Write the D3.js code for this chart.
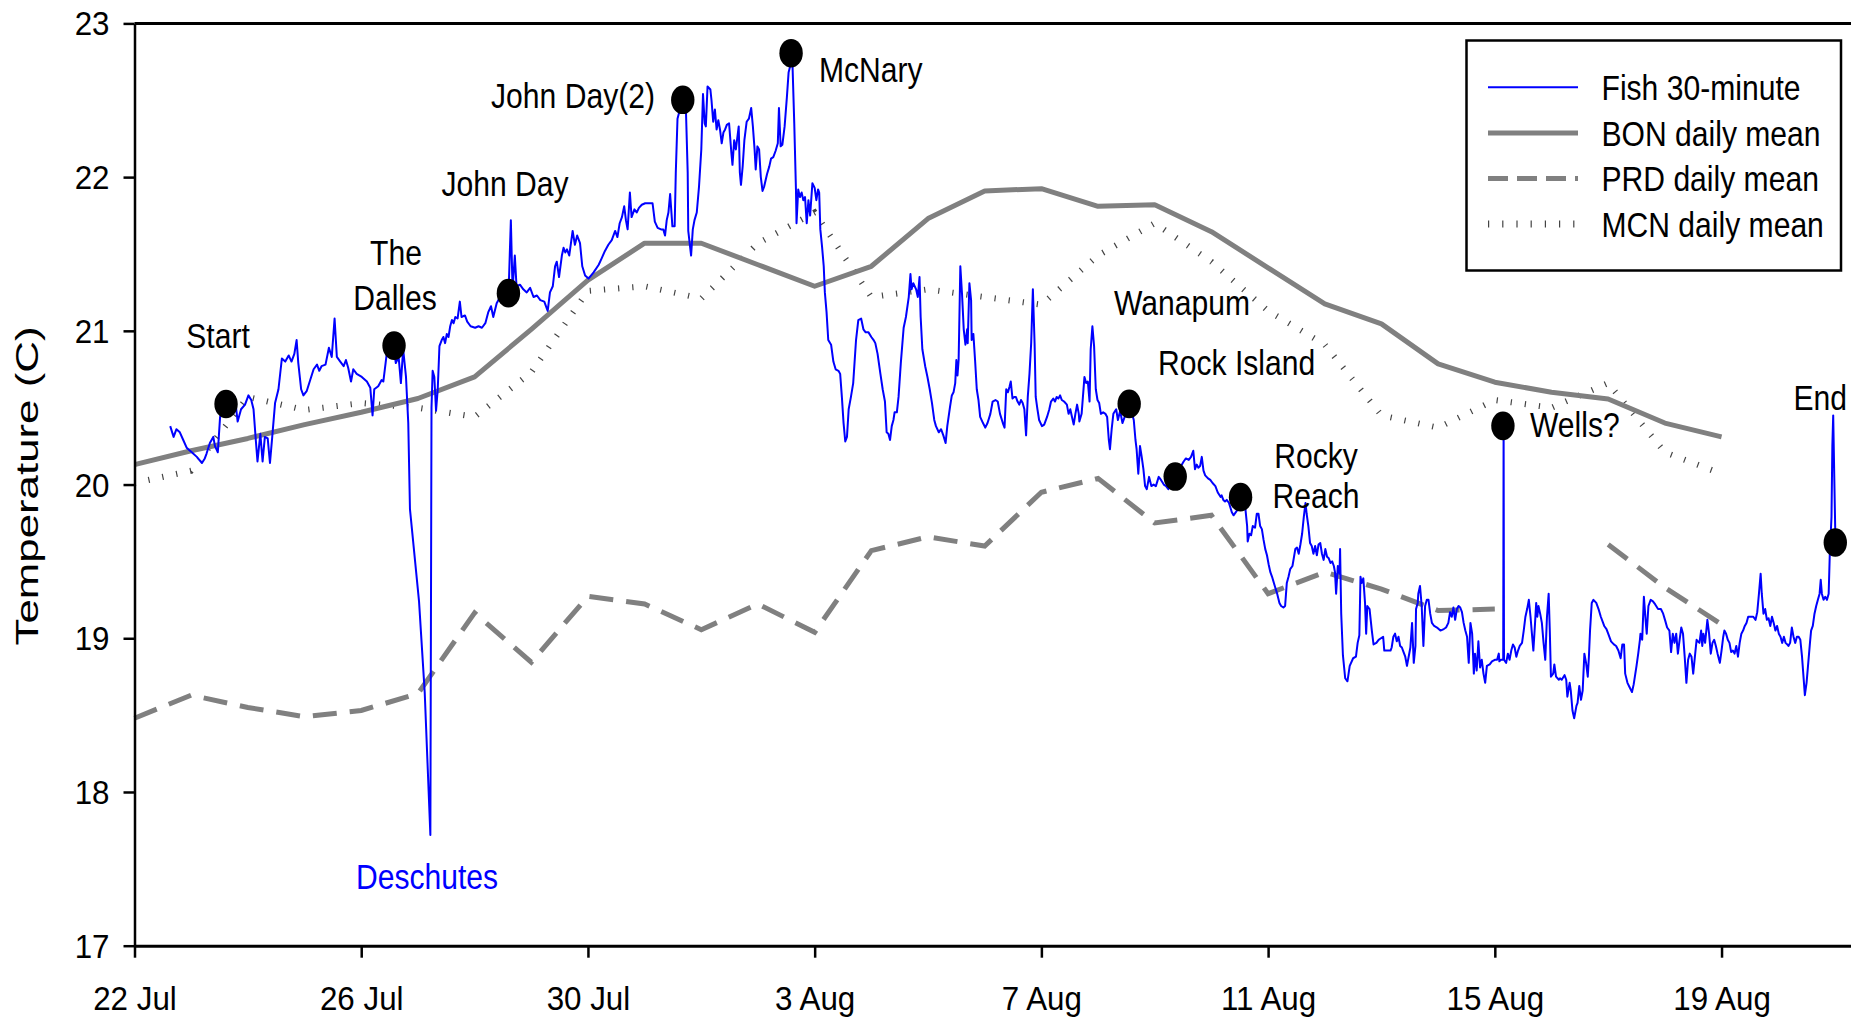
<!DOCTYPE html>
<html><head><meta charset="utf-8">
<script src="https://cdn.jsdelivr.net/npm/d3@7"></script>
<style>
html,body{margin:0;padding:0;background:#fff;overflow:hidden}
svg{display:block}
text{font-family:"Liberation Sans",Arial,Helvetica,sans-serif}
</style></head><body>
<svg id="chart" width="1851" height="1018"></svg>
<script>
// ---------- DATA ----------
const startUTC = Date.UTC(2003, 6, 22); // 22 Jul
const xTickDays = [0, 4, 8, 12, 16, 20, 24, 28];
const xTickLabels = ["22 Jul", "26 Jul", "30 Jul", "3 Aug", "7 Aug", "11 Aug", "15 Aug", "19 Aug"];
const yTicks = [17, 18, 19, 20, 21, 22, 23];

const dailyDays = [0,1,2,3,4,5,6,7,8,9,10,11,12,13,14,15,16,17,18,19,20,21,22,23,24,25,26,27,28];
const bonMean = [20.13,20.22,20.30,20.39,20.47,20.56,20.70,21.01,21.33,21.57,21.57,21.43,21.29,21.42,21.73,21.91,21.925,21.81,21.82,21.645,21.41,21.175,21.045,20.785,20.666,20.60,20.557,20.40,20.31];
const prdMean = [18.48,18.63,18.55,18.49,18.53,18.64,19.165,18.844,19.273,19.223,19.056,19.223,19.039,19.57,19.66,19.60,19.95,20.04,19.75,19.80,19.29,19.43,19.32,19.18,19.19,null,19.61,19.33,19.09];
const mcnMean = [20.01,20.09,20.57,20.485,20.53,20.50,20.44,20.73,21.26,21.29,21.21,21.57,21.77,21.22,21.27,21.22,21.17,21.49,21.70,21.45,21.13,20.91,20.45,20.37,20.55,20.50,20.66,20.21,20.07];

const siteNames = ["Start","The Dalles","John Day","John Day(2)","McNary","Wanapum","Rock Island","Rocky Reach","Wells?","End"];
const siteDays  = [1.615, 4.579, 6.597, 9.673, 11.584, 17.549, 18.361, 19.514, 24.143, 30.007];
const siteTemps = [20.524, 20.904, 21.245, 22.503, 22.806, 20.525, 20.052, 19.918, 20.382, 19.623];

// fish 30-minute record: [days since 22 Jul, temperature C]
const fishSeries = [
[0.63,20.38],[0.69,20.31],[0.74,20.36],[0.80,20.34],[0.86,20.29],[0.92,20.24],[1.01,20.21],[1.10,20.18],[1.19,20.14],[1.24,20.17],[1.27,20.20],[1.33,20.27],[1.39,20.31],[1.42,20.25],[1.47,20.21],[1.51,20.44],[1.55,20.49],[1.63,20.52],[1.72,20.54],[1.77,20.57],[1.82,20.41],[1.88,20.49],[1.95,20.52],[2.01,20.58],[2.06,20.55],[2.10,20.49],[2.14,20.29],[2.17,20.15],[2.22,20.33],[2.26,20.15],[2.30,20.31],[2.35,20.30],[2.39,20.14],[2.43,20.31],[2.48,20.53],[2.54,20.62],[2.60,20.82],[2.66,20.80],[2.72,20.84],[2.77,20.80],[2.82,20.85],[2.86,20.94],[2.89,20.79],[2.94,20.62],[2.98,20.58],[3.04,20.61],[3.10,20.68],[3.16,20.75],[3.22,20.78],[3.26,20.74],[3.30,20.77],[3.37,20.78],[3.43,20.89],[3.48,20.83],[3.53,21.08],[3.57,20.83],[3.63,20.80],[3.69,20.77],[3.73,20.81],[3.77,20.76],[3.82,20.67],[3.86,20.75],[3.92,20.72],[4.01,20.70],[4.10,20.67],[4.16,20.63],[4.20,20.45],[4.23,20.62],[4.30,20.64],[4.36,20.68],
[4.39,20.67],[4.45,20.85],[4.51,20.90],[4.57,20.91],[4.61,20.79],[4.66,20.83],[4.70,20.66],[4.74,20.88],[4.79,20.70],[4.83,20.40],[4.86,19.84],[5.02,19.24],[5.12,18.65],[5.22,17.72],[5.24,20.50],[5.26,20.74],[5.29,20.70],[5.32,20.48],[5.35,20.62],[5.38,20.90],[5.42,20.94],[5.45,20.96],[5.48,20.92],[5.51,20.98],[5.54,20.96],[5.57,21.03],[5.60,21.07],[5.63,21.05],[5.66,21.09],[5.70,21.08],[5.74,21.19],[5.77,21.09],[5.83,21.10],[5.87,21.06],[5.93,21.03],[6.01,21.02],[6.07,21.03],[6.13,21.02],[6.19,21.05],[6.24,21.12],[6.29,21.16],[6.33,21.09],[6.39,21.18],[6.45,21.22],[6.52,21.27],[6.60,21.25],[6.64,21.72],[6.67,21.27],[6.71,21.49],[6.74,21.29],[6.80,21.30],[6.86,21.27],[6.92,21.25],[6.98,21.28],[7.04,21.22],[7.10,21.23],[7.16,21.20],[7.23,21.19],[7.29,21.13],[7.33,21.25],[7.38,21.29],[7.42,21.42],[7.45,21.45],[7.49,21.35],[7.54,21.49],[7.57,21.54],[7.60,21.51],[7.63,21.53],[7.67,21.49],[7.73,21.65],[7.77,21.56],[7.81,21.62],[7.86,21.57],[7.90,21.42],[7.95,21.36],[8.01,21.34],[8.10,21.38],[8.19,21.43],[8.24,21.47],[8.30,21.52],[8.36,21.56],[8.42,21.59],[8.48,21.65],[8.52,21.61],[8.56,21.70],[8.60,21.74],[8.64,21.81],[8.67,21.72],
[8.70,21.66],[8.74,21.90],[8.77,21.74],[8.82,21.79],[8.86,21.77],[8.90,21.80],[8.95,21.82],[9.01,21.83],[9.14,21.83],[9.18,21.71],[9.23,21.67],[9.29,21.66],[9.33,21.66],[9.36,21.62],[9.39,21.72],[9.42,21.77],[9.45,21.89],[9.49,21.68],[9.53,21.68],[9.55,22.03],[9.58,22.38],[9.63,22.45],[9.70,22.44],[9.73,22.42],[9.76,22.03],[9.77,21.65],[9.82,21.49],[9.85,21.66],[9.88,21.72],[9.92,21.77],[9.96,21.94],[10.00,22.18],[10.03,22.54],[10.06,22.35],[10.08,22.33],[10.11,22.59],[10.16,22.57],[10.18,22.50],[10.21,22.36],[10.24,22.44],[10.27,22.31],[10.30,22.37],[10.33,22.31],[10.36,22.22],[10.39,22.29],[10.42,22.31],[10.45,22.34],[10.49,22.35],[10.53,22.16],[10.55,22.08],[10.58,22.24],[10.61,22.18],[10.66,22.33],[10.68,22.03],[10.70,21.95],[10.73,22.07],[10.76,22.24],[10.80,22.36],[10.84,22.38],[10.88,22.45],[10.91,22.33],[10.94,22.18],[10.96,22.05],[10.99,22.20],[11.02,22.18],[11.05,22.00],[11.08,21.91],[11.11,21.94],[11.16,22.02],[11.20,22.07],[11.23,22.12],[11.27,22.13],[11.31,22.17],[11.35,22.22],[11.37,22.45],[11.40,22.20],[11.43,22.21],[11.47,22.33],[11.51,22.52],[11.54,22.68],[11.58,22.74],[11.61,22.72],[11.64,22.35],[11.67,21.92],[11.68,21.70],[11.71,21.92],[11.74,21.87],[11.77,21.90],[11.80,21.85],[11.83,21.87],[11.86,21.70],[11.89,21.85],[11.92,21.75],[11.96,21.96],[12.00,21.93],[12.03,21.85],[12.06,21.92],[12.08,21.90],[12.10,21.66],[12.13,21.55],[12.16,21.42],[12.18,21.25],[12.21,21.12],[12.24,20.94],[12.29,20.91],[12.33,20.80],[12.37,20.75],[12.42,20.74],[12.45,20.72],[12.48,20.57],[12.51,20.40],[12.54,20.28],[12.57,20.31],[12.60,20.49],[12.64,20.57],[12.68,20.66],[12.73,20.94],[12.77,21.07],[12.82,21.08],[12.86,21.01],[12.90,20.99],[12.95,20.99],[13.00,20.96],[13.04,20.94],
[13.07,20.92],[13.11,20.85],[13.16,20.72],[13.20,20.62],[13.24,20.54],[13.27,20.34],[13.30,20.33],[13.33,20.29],[13.36,20.38],[13.39,20.42],[13.41,20.47],[13.45,20.47],[13.48,20.57],[13.52,20.79],[13.57,21.02],[13.61,21.09],[13.66,21.22],[13.69,21.37],[13.71,21.27],[13.74,21.31],[13.79,21.27],[13.82,21.22],[13.85,21.35],[13.87,21.09],[13.90,20.88],[13.95,20.77],[13.99,20.70],[14.03,20.62],[14.07,20.53],[14.11,20.42],[14.14,20.38],[14.19,20.34],[14.23,20.36],[14.27,20.32],[14.31,20.27],[14.34,20.38],[14.39,20.51],[14.42,20.58],[14.45,20.60],[14.48,20.66],[14.50,20.81],[14.52,20.71],[14.54,20.81],[14.57,21.42],[14.60,21.24],[14.63,21.01],[14.66,20.91],[14.69,21.01],[14.70,20.92],[14.73,21.31],[14.76,21.20],[14.77,20.94],[14.80,20.98],[14.83,20.81],[14.86,20.62],[14.89,20.55],[14.92,20.44],[14.97,20.40],[15.01,20.37],[15.05,20.40],[15.10,20.46],[15.14,20.54],[15.19,20.55],[15.23,20.54],[15.27,20.46],[15.32,20.40],[15.35,20.37],[15.38,20.62],[15.41,20.60],[15.44,20.64],[15.46,20.67],[15.49,20.56],[15.52,20.57],[15.55,20.57],[15.58,20.54],[15.61,20.52],[15.64,20.55],[15.67,20.53],[15.70,20.49],[15.73,20.32],[15.76,20.57],[15.79,20.72],[15.82,20.92],[15.85,21.27],[15.88,20.92],[15.90,20.57],[15.93,20.49],[15.96,20.42],[16.01,20.38],[16.05,20.39],[16.10,20.44],[16.14,20.49],[16.17,20.54],[16.21,20.56],[16.24,20.54],[16.27,20.57],[16.30,20.56],[16.33,20.58],[16.36,20.55],[16.40,20.54],[16.45,20.52],[16.48,20.46],[16.51,20.49],[16.54,20.44],[16.57,20.39],[16.60,20.46],[16.63,20.52],[16.66,20.46],[16.67,20.41],[16.71,20.46],[16.76,20.70],[16.79,20.66],[16.82,20.67],[16.85,20.54],[16.87,20.88],[16.90,21.03],[16.93,20.90],[16.96,20.62],[16.99,20.55],[17.02,20.53],[17.05,20.46],[17.09,20.47],[17.13,20.46],[17.16,20.44],[17.19,20.29],[17.21,20.23],[17.24,20.36],[17.27,20.46],[17.32,20.49],[17.35,20.42],[17.39,20.48],[17.43,20.40],[17.47,20.44],[17.51,20.50],[17.55,20.53],
[17.60,20.46],[17.63,20.42],[17.66,20.29],[17.68,20.23],[17.71,20.07],[17.74,20.25],[17.77,20.18],[17.80,20.10],[17.83,19.99],[17.86,19.97],[17.90,20.05],[17.94,19.99],[17.98,20.00],[18.02,19.99],[18.07,20.05],[18.11,20.03],[18.16,20.00],[18.20,19.99],[18.24,19.97],[18.30,20.03],[18.36,20.06],[18.43,20.10],[18.51,20.15],[18.55,20.17],[18.60,20.16],[18.64,20.18],[18.68,20.22],[18.71,20.10],[18.74,20.13],[18.77,20.11],[18.80,20.12],[18.83,20.18],[18.86,20.09],[18.89,20.06],[18.94,20.04],[18.98,20.03],[19.02,20.01],[19.07,19.99],[19.11,19.95],[19.16,19.92],[19.18,19.93],[19.21,19.90],[19.24,19.89],[19.27,19.90],[19.31,19.88],[19.36,19.82],[19.39,19.80],[19.45,19.83],[19.51,19.90],[19.56,19.88],[19.60,19.84],[19.63,19.73],[19.64,19.63],[19.67,19.68],[19.70,19.67],[19.73,19.73],[19.77,19.72],[19.80,19.81],[19.83,19.81],[19.86,19.73],[19.89,19.71],[19.92,19.64],[19.95,19.58],[19.98,19.54],[20.01,19.48],[20.04,19.43],[20.07,19.40],[20.11,19.35],[20.16,19.29],[20.20,19.23],[20.23,19.21],[20.27,19.20],[20.30,19.21],[20.33,19.36],[20.36,19.40],[20.39,19.45],[20.43,19.47],[20.48,19.58],[20.51,19.59],[20.54,19.55],[20.57,19.61],[20.60,19.68],[20.63,19.79],[20.66,19.88],[20.68,19.81],[20.71,19.73],[20.74,19.62],[20.77,19.60],[20.80,19.55],[20.83,19.60],[20.86,19.54],[20.89,19.61],[20.92,19.62],[20.95,19.55],[20.98,19.51],[21.01,19.58],[21.04,19.53],[21.07,19.52],[21.10,19.49],[21.13,19.50],[21.16,19.47],[21.18,19.43],[21.20,19.29],[21.23,19.47],[21.26,19.42],[21.27,19.58],[21.29,19.16],
[21.32,18.89],[21.36,18.74],[21.40,18.72],[21.44,18.82],[21.50,18.87],[21.55,18.88],[21.58,18.97],[21.61,19.02],[21.63,19.40],[21.65,19.36],[21.68,19.39],[21.71,19.23],[21.73,19.03],[21.75,19.21],[21.79,19.19],[21.83,19.05],[21.86,18.96],[21.91,18.97],[21.95,18.99],[21.99,19.00],[22.03,19.01],[22.05,18.92],[22.10,18.92],[22.16,18.92],[22.18,18.94],[22.21,19.01],[22.24,19.03],[22.27,18.98],[22.30,19.01],[22.33,18.95],[22.36,18.94],[22.39,18.91],[22.42,18.88],[22.45,18.82],[22.48,18.88],[22.51,18.94],[22.54,19.10],[22.57,18.84],[22.60,18.95],[22.61,19.19],[22.64,19.23],[22.65,19.29],[22.68,19.34],[22.71,19.21],[22.74,18.95],[22.77,19.21],[22.80,19.25],[22.83,19.25],[22.86,19.16],[22.89,19.10],[22.93,19.08],[22.98,19.07],[23.04,19.05],[23.10,19.06],[23.14,19.07],[23.18,19.10],[23.21,19.17],[23.24,19.14],[23.27,19.20],[23.30,19.12],[23.33,19.19],[23.36,19.21],[23.39,19.20],[23.42,19.17],[23.45,19.10],[23.48,19.05],[23.51,19.01],[23.54,18.84],[23.57,19.10],[23.60,19.03],[23.63,18.77],[23.65,18.90],[23.68,18.79],[23.71,18.98],[23.74,18.81],[23.77,18.86],[23.80,18.77],[23.83,18.71],[23.86,18.82],[23.91,18.83],[23.95,18.85],[24.00,18.86],[24.04,18.86],[24.07,18.90],[24.08,18.85],[24.11,18.86],[24.148,18.86],[24.155,20.38],[24.162,18.86],[24.20,18.84],[24.23,18.90],[24.26,18.86],[24.29,18.92],[24.32,18.96],[24.35,18.94],[24.38,18.88],[24.41,18.92],[24.44,18.95],[24.48,18.97],[24.51,19.05],[24.54,19.14],[24.57,19.19],[24.60,19.25],[24.63,19.14],[24.65,19.05],[24.68,18.92],[24.71,19.10],[24.73,19.23],[24.75,19.14],[24.77,19.21],[24.80,19.16],[24.83,19.10],[24.86,18.97],[24.89,18.86],[24.92,19.14],[24.95,19.29],[24.97,19.05],[24.99,18.75],[25.03,18.77],[25.05,18.83],[25.08,18.75],[25.13,18.73],[25.15,18.74],[25.18,18.73],[25.23,18.76],[25.26,18.73],[25.28,18.62],[25.32,18.71],[25.34,18.66],[25.37,18.53],[25.40,18.48],[25.44,18.56],[25.46,18.58],[25.49,18.69],[25.52,18.60],[25.55,18.66],[25.58,18.90],[25.61,18.84],[25.64,18.75],[25.66,18.88],[25.68,19.05],[25.71,19.23],[25.74,19.25],[25.79,19.23],[25.83,19.19],[25.87,19.14],
[25.93,19.08],[25.97,19.06],[26.01,19.02],[26.05,18.98],[26.10,18.96],[26.14,18.95],[26.18,18.92],[26.22,18.87],[26.25,18.96],[26.28,18.96],[26.30,18.77],[26.34,18.71],[26.38,18.68],[26.42,18.65],[26.45,18.70],[26.50,18.82],[26.53,18.90],[26.56,18.99],[26.57,19.03],[26.60,18.99],[26.63,19.27],[26.66,19.12],[26.68,19.03],[26.71,19.21],[26.75,19.25],[26.79,19.24],[26.83,19.22],[26.88,19.19],[26.93,19.19],[26.97,19.16],[27.01,19.11],[27.04,19.07],[27.08,19.05],[27.11,18.91],[27.14,19.03],[27.17,18.97],[27.20,19.03],[27.23,18.90],[27.26,18.99],[27.29,19.07],[27.32,19.03],[27.35,18.88],[27.38,18.71],[27.41,18.86],[27.44,18.90],[27.47,18.88],[27.50,18.77],[27.53,18.88],[27.56,18.99],[27.58,18.98],[27.61,18.97],[27.64,19.05],[27.66,18.95],[27.68,19.03],[27.71,18.97],[27.75,19.12],[27.78,19.03],[27.81,18.90],[27.84,18.97],[27.87,18.99],[27.90,18.95],[27.93,18.90],[27.97,18.84],[28.00,18.92],[28.03,19.01],[28.05,19.05],[28.08,19.03],[28.11,18.99],[28.14,18.97],[28.17,18.91],[28.20,18.92],[28.23,18.90],[28.26,18.95],[28.29,18.88],[28.32,18.97],[28.35,19.03],[28.38,19.05],[28.41,19.08],[28.44,19.10],[28.47,19.14],[28.51,19.14],[28.56,19.14],[28.60,19.12],[28.63,19.17],[28.66,19.29],[28.69,19.42],[28.71,19.29],[28.74,19.16],[28.77,19.19],[28.80,19.12],[28.83,19.13],[28.86,19.08],[28.89,19.14],[28.92,19.10],[28.95,19.05],[28.98,19.08],[29.01,19.03],[29.04,19.01],[29.07,18.97],[29.10,19.01],[29.13,18.97],[29.16,18.96],[29.18,18.95],[29.21,18.97],[29.24,19.07],[29.27,19.01],[29.30,18.97],[29.33,19.01],[29.36,19.01],[29.39,18.99],[29.42,18.88],[29.45,18.73],[29.47,18.63],[29.50,18.71],[29.53,18.84],[29.56,18.97],[29.58,19.05],[29.61,19.08],[29.64,19.16],[29.67,19.21],[29.70,19.25],[29.73,19.29],[29.75,19.38],[29.77,19.29],[29.80,19.25],[29.83,19.27],[29.86,19.25],[29.89,19.29],[29.91,19.55],[29.94,19.79],[29.955,20.25],[29.97,20.45],[29.99,20.03],[30.01,19.62]
];

const legendLabels = ["Fish 30-minute", "BON daily mean", "PRD daily mean", "MCN daily mean"];

// ---------- DRAW ----------
const W = 1851, H = 1018;
const svg = d3.select("#chart");
const dayToDate = d => new Date(startUTC + d * 864e5);

const x = d3.scaleUtc().domain([dayToDate(0), dayToDate(31)]).range([134.5, 134.5 + 31 * 56.68]);
const y = d3.scaleLinear().domain([17, 23]).range([945.7, 23.4]);

const GRAY = "#808080", BLUE = "#0000ff";

const line = d3.line()
  .defined(d => d[1] != null)
  .x(d => x(dayToDate(d[0])))
  .y(d => y(d[1]));

const zip = (a, b) => a.map((v, i) => [v, b[i]]);

// MCN dotted
svg.append("path").datum(zip(dailyDays, mcnMean)).attr("d", line)
  .attr("fill", "none").attr("stroke", "#444").attr("stroke-width", 6)
  .attr("stroke-dasharray", "1.2,13");
// PRD dashed
svg.append("path").datum(zip(dailyDays, prdMean)).attr("d", line)
  .attr("fill", "none").attr("stroke", GRAY).attr("stroke-width", 5)
  .attr("stroke-dasharray", "24,13");
// BON solid
svg.append("path").datum(zip(dailyDays, bonMean)).attr("d", line)
  .attr("fill", "none").attr("stroke", GRAY).attr("stroke-width", 5)
  .attr("stroke-linejoin", "round");
// Fish
svg.append("path").datum(fishSeries).attr("d", line)
  .attr("fill", "none").attr("stroke", BLUE).attr("stroke-width", 2)
  .attr("stroke-linejoin", "round");

// site dots
svg.append("g").selectAll("ellipse").data(siteNames).join("ellipse")
  .attr("cx", (d, i) => x(dayToDate(siteDays[i])))
  .attr("cy", (d, i) => y(siteTemps[i]))
  .attr("rx", 11.7).attr("ry", 14.3).attr("fill", "#000");

// frame top line
svg.append("line").attr("x1", x(dayToDate(0))).attr("x2", W)
  .attr("y1", y(23)).attr("y2", y(23)).attr("stroke", "#000").attr("stroke-width", 3);

// axes
const TS = 0.95;
const xAxis = d3.axisBottom(x)
  .tickValues(xTickDays.map(dayToDate))
  .tickFormat((d, i) => xTickLabels[i])
  .tickSizeInner(12).tickSizeOuter(0);
const gx = svg.append("g").attr("transform", `translate(0,${y(17)})`).call(xAxis);
gx.select(".domain").attr("stroke-width", 3);
gx.selectAll(".tick line").attr("stroke-width", 2.5);
gx.selectAll(".tick text").attr("y", 64).attr("dy", 0)
  .attr("font-size", 33).attr("fill", "#000")
  .attr("font-family", '"Liberation Sans", Arial, sans-serif')
  .attr("transform", `scale(${TS},1)`);

const yAxis = d3.axisLeft(y).tickValues(yTicks).tickFormat(d3.format("d"))
  .tickSizeInner(11).tickSizeOuter(0);
const gy = svg.append("g").attr("transform", `translate(${x(dayToDate(0))},0)`).call(yAxis);
gy.select(".domain").attr("stroke-width", 2.5);
gy.selectAll(".tick line").attr("stroke-width", 2.5);
gy.selectAll(".tick text").attr("x", -25 / TS).attr("dy", "0.35em")
  .attr("font-size", 33).attr("fill", "#000")
  .attr("font-family", '"Liberation Sans", Arial, sans-serif')
  .attr("transform", `scale(${TS},1)`);

// y axis title
svg.append("text")
  .attr("transform", `translate(37.5,486) rotate(-90) scale(1.37,1)`)
  .attr("text-anchor", "middle").attr("font-size", 32).attr("fill", "#000")
  .text("Temperature (C)");

// annotations
const SX = 0.86;
const annotations = [
  {t: "Start", x: 218, y: 348, a: "middle"},
  {t: "The", x: 396, y: 265, a: "middle"},
  {t: "Dalles", x: 395, y: 310, a: "middle"},
  {t: "John Day", x: 505, y: 196, a: "middle"},
  {t: "John Day(2)", x: 573, y: 108, a: "middle"},
  {t: "McNary", x: 819, y: 82, a: "start"},
  {t: "Wanapum", x: 1182, y: 315, a: "middle"},
  {t: "Rock Island", x: 1158, y: 375, a: "start"},
  {t: "Rocky", x: 1316, y: 468, a: "middle"},
  {t: "Reach", x: 1316, y: 508, a: "middle"},
  {t: "Wells?", x: 1530, y: 437, a: "start"},
  {t: "End", x: 1847, y: 410, a: "end"},
  {t: "Deschutes", x: 427, y: 889, a: "middle", c: BLUE}
];
svg.append("g").selectAll("text").data(annotations).join("text")
  .attr("transform", d => `translate(${d.x},${d.y}) scale(${SX},1)`)
  .attr("text-anchor", d => d.a).attr("font-size", 35)
  .attr("fill", d => d.c || "#000").text(d => d.t);

// legend
const lg = svg.append("g");
lg.append("rect").attr("x", 1466.5).attr("y", 40.5).attr("width", 374.5).attr("height", 230)
  .attr("fill", "#fff").attr("stroke", "#000").attr("stroke-width", 2.5);
const legendStyles = [
  {stroke: BLUE, w: 2, dash: null},
  {stroke: GRAY, w: 5, dash: null},
  {stroke: GRAY, w: 5, dash: "20,9"},
  {stroke: "#444", w: 7, dash: "1.2,13"}
];
const legendRowY = i => 87.3 + i * 45.6;
legendLabels.forEach((lab, i) => {
  const s = legendStyles[i];
  lg.append("line").attr("x1", 1488).attr("x2", 1578)
    .attr("y1", legendRowY(i)).attr("y2", legendRowY(i))
    .attr("stroke", s.stroke).attr("stroke-width", s.w)
    .attr("stroke-dasharray", s.dash);
  lg.append("text").attr("transform", `translate(1601.5,${legendRowY(i) + 12.7}) scale(${SX},1)`)
    .attr("font-size", 35).attr("fill", "#000").text(lab);
});
</script>
</body></html>
